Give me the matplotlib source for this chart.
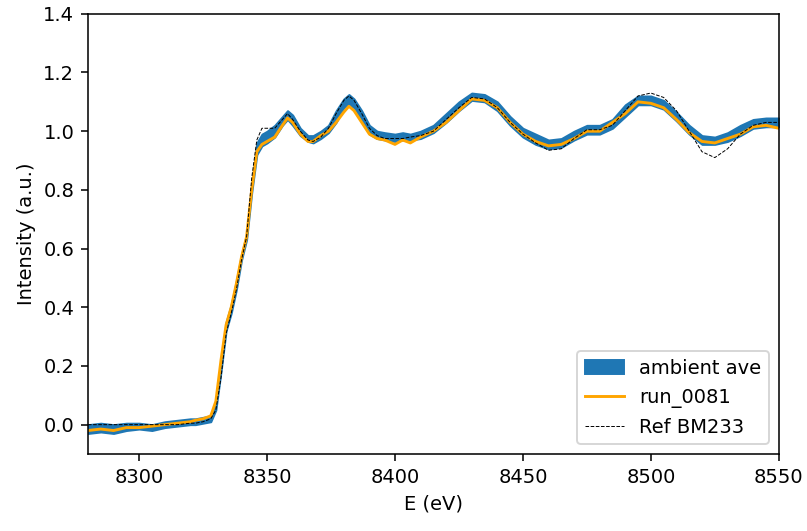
import numpy as np
import matplotlib
matplotlib.use('Agg')
import matplotlib.pyplot as plt

# energy grid (eV)
energy = [8280, 8285, 8290, 8295, 8300, 8305, 8310, 8315, 8320, 8322,
          8325, 8328, 8330, 8332, 8334, 8336, 8338, 8340, 8342, 8344,
          8346, 8348, 8350, 8353, 8356, 8358, 8360, 8363, 8366, 8368,
          8371, 8374, 8377, 8380, 8382, 8384, 8387, 8390, 8393, 8396,
          8400, 8403, 8406, 8410, 8415, 8420, 8425, 8430, 8435, 8440,
          8445, 8450, 8455, 8460, 8465, 8470, 8475, 8480, 8485, 8490,
          8495, 8500, 8505, 8510, 8515, 8520, 8525, 8530, 8535, 8540,
          8545, 8550]

# run_0081
run_0081 = [-0.02, -0.015, -0.02, -0.01, -0.01, -0.005, 0.0, 0.005, 0.01, 0.015,
            0.02, 0.03, 0.08, 0.22, 0.34, 0.40, 0.48, 0.57, 0.64, 0.80,
            0.93, 0.955, 0.965, 0.98, 1.02, 1.045, 1.03, 0.99, 0.965, 0.965,
            0.985, 1.0, 1.03, 1.065, 1.085, 1.07, 1.03, 0.99, 0.975, 0.97,
            0.955, 0.97, 0.96, 0.98, 1.0, 1.03, 1.07, 1.11, 1.105, 1.08,
            1.03, 0.99, 0.965, 0.95, 0.955, 0.975, 1.0, 1.0, 1.03, 1.06,
            1.10, 1.095, 1.08, 1.04, 0.995, 0.965, 0.96, 0.975, 0.99, 1.015,
            1.02, 1.01]

# reference BM233
ref_bm233 = [0.0, 0.0, 0.0, 0.0, 0.0, 0.0, 0.0, 0.0, 0.005, 0.005,
             0.01, 0.02, 0.05, 0.16, 0.31, 0.38, 0.46, 0.56, 0.64, 0.84,
             0.97, 1.01, 1.01, 1.01, 1.04, 1.06, 1.04, 1.0, 0.97, 0.965,
             0.98, 1.01, 1.06, 1.105, 1.12, 1.105, 1.06, 1.01, 0.985, 0.975,
             0.975, 0.975, 0.98, 0.985, 1.0, 1.04, 1.08, 1.115, 1.11, 1.08,
             1.03, 0.99, 0.96, 0.935, 0.94, 0.975, 1.005, 1.005, 1.02, 1.07,
             1.12, 1.13, 1.115, 1.07, 1.0, 0.93, 0.91, 0.94, 0.99, 1.02,
             1.03, 1.03]

# ambient average band (lower / upper)
ambient_lo = [-0.03, -0.025, -0.03, -0.02, -0.015, -0.02, -0.01, -0.005, 0.0, 0.0,
              0.005, 0.01, 0.05, 0.18, 0.32, 0.38, 0.46, 0.56, 0.63, 0.79,
              0.92, 0.95, 0.96, 0.98, 1.02, 1.04, 1.02, 0.985, 0.965, 0.96,
              0.975, 0.995, 1.03, 1.08, 1.09, 1.08, 1.04, 0.99, 0.975, 0.97,
              0.965, 0.97, 0.97, 0.975, 0.995, 1.03, 1.07, 1.105, 1.1, 1.07,
              1.02, 0.98, 0.955, 0.94, 0.945, 0.97, 0.99, 0.99, 1.01, 1.05,
              1.09, 1.09, 1.075, 1.035, 0.99, 0.955, 0.955, 0.965, 0.985, 1.01,
              1.015, 1.015]
ambient_hi = [0.0, 0.005, 0.0, 0.005, 0.005, 0.0, 0.01, 0.015, 0.02, 0.02,
              0.025, 0.03, 0.08, 0.22, 0.35, 0.41, 0.49, 0.58, 0.65, 0.82,
              0.96, 0.99, 1.0, 1.02, 1.05, 1.07, 1.055, 1.01, 0.985, 0.985,
              1.0, 1.02, 1.07, 1.11, 1.125, 1.11, 1.07, 1.02, 1.0, 0.995,
              0.99, 0.995, 0.99, 1.0, 1.02, 1.06, 1.10, 1.13, 1.125, 1.10,
              1.05, 1.01, 0.99, 0.97, 0.975, 1.0, 1.02, 1.02, 1.04, 1.09,
              1.12, 1.12, 1.105, 1.065, 1.02, 0.985, 0.98, 0.995, 1.02, 1.04,
              1.045, 1.045]

DPI = 140
fig, ax = plt.subplots(figsize=(807 / DPI, 531 / DPI), dpi=DPI)
fig.subplots_adjust(left=0.109, right=0.965, top=0.974, bottom=0.145)

ax.fill_between(energy, ambient_lo, ambient_hi, color='#1f77b4',
                lw=1, label='ambient ave')
ax.plot(energy, run_0081, color='orange', lw=1.5, label='run_0081')
ax.plot(energy, ref_bm233, color='black', ls='--', lw=0.5, label='Ref BM233')

ax.set_xlim(8280, 8550)
ax.set_ylim(-0.1, 1.4)
ax.set_xlabel('E (eV)')
ax.set_ylabel('Intensity (a.u.)')
ax.legend(loc='lower right')

fig.savefig('out.png', dpi=DPI)
